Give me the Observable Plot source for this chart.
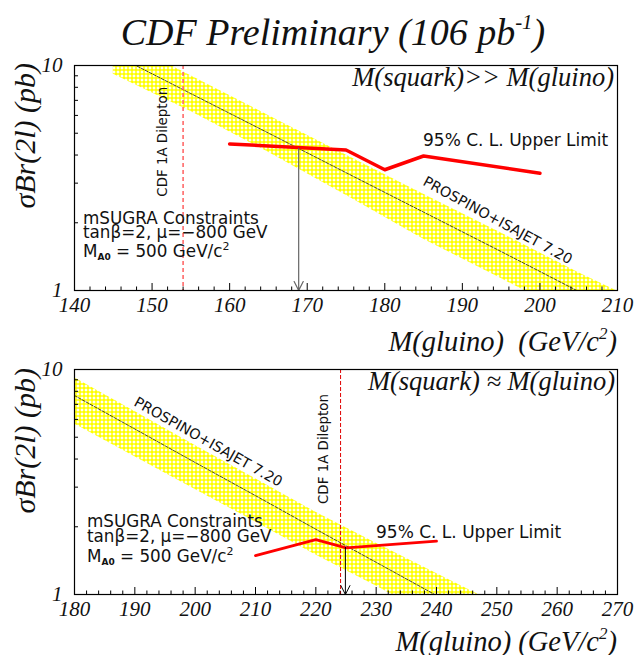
<!DOCTYPE html>
<html>
<head>
<meta charset="utf-8">
<script src="https://cdn.jsdelivr.net/npm/d3@7"></script>
<script src="https://cdn.jsdelivr.net/npm/@observablehq/plot@0.6"></script>
<style>
  body { margin: 0; background: #fff; width: 637px; }
  #title { position: relative; height: 50px; width: 637px; }
  #title span { position: absolute; left: 333px; top: 13px; transform: translateX(-50%);
    white-space: nowrap; font-family: "Liberation Serif", serif; font-style: italic;
    font-size: 38px; line-height: 38px; color: #111; }
  #title sup { font-size: 0.55em; line-height: 0; vertical-align: 0.78em; }
  svg { display: block; overflow: visible; }
</style>
</head>
<body>
<div id="title"><span>CDF Preliminary (106 pb<sup>-1</sup>)</span></div>
<div id="p1"></div>
<div id="p2"></div>
<script>
// ---------- data: top panel  M(squark) >> M(gluino) ----------
const topTicks = [140, 150, 160, 170, 180, 190, 200, 210];
const topBandMass = [145, 155, 165, 175, 185, 195, 205, 212];
const topBandCentral = [11.25, 7.50, 5.01, 3.34, 2.23, 1.49, 0.99, 0.75];
const topBandUpper = [13.5, 9.0, 6.0, 4.0, 2.68, 1.80, 1.20, 0.92];
const topBandLower = [9.15, 6.24, 4.12, 2.65, 1.69, 1.13, 0.75, 0.57];
const topLimitMass = [160, 175, 180, 185, 200];
const topLimit = [4.48, 4.21, 3.44, 3.96, 3.32];
const topRun1A = 154;
const topArrowMass = 168.9;
const topArrowFrom = 4.28;

// ---------- data: bottom panel  M(squark) ≈ M(gluino) ----------
const botTicks = [180, 190, 200, 210, 220, 230, 240, 250, 260, 270];
const botBandMass = [180, 190, 200, 210, 220, 230, 240, 250];
const botBandCentral = [7.66, 5.44, 3.86, 2.75, 1.95, 1.39, 0.99, 0.70];
const botBandUpper = [9.18, 6.50, 4.59, 3.27, 2.32, 1.69, 1.24, 0.91];
const botBandLower = [5.73, 4.09, 2.93, 2.10, 1.50, 1.09, 0.78, 0.56];
const botLimitMass = [210, 220, 225, 240];
const botLimit = [1.49, 1.755, 1.61, 1.725];
const botRun1A = 224.1;
const botArrowMass = 224.9;
const botArrowFrom = 1.62;

const yLabels = [1, 10];
const yMinor = [2, 3, 4, 5, 6, 7, 8, 9];

const W = 637, ML = 74, MR = 20, FH = 225;
const FW = W - ML - MR;
const SERIF = "Liberation Serif, Times New Roman, serif";
const SANS = "DejaVu Sans, sans-serif";

function panel(o) {
  const band = o.bandMass.map((m, i) => ({m, c: o.central[i], hi: o.upper[i], lo: o.lower[i]}));
  const limit = o.limitMass.map((m, i) => ({m, s: o.limit[i]}));
  const xMinor = d3.range(o.ticks[0], o.ticks[o.ticks.length - 1] + 0.01, 2).filter(v => !o.ticks.includes(v));
  const svg = Plot.plot({
    width: W, height: o.height,
    marginLeft: ML, marginRight: MR, marginTop: o.marginTop, marginBottom: o.height - o.marginTop - FH,
    x: {domain: [o.ticks[0], o.ticks[o.ticks.length - 1]], label: null},
    y: {type: "log", domain: [1, 10], label: null},
    style: {background: "white", overflow: "visible"},
    marks: [
      Plot.areaY(band, {x: "m", y1: "lo", y2: "hi", fill: `url(#${o.pid})`, clip: true}),
      Plot.line(band, {x: "m", y: "c", stroke: "#000", strokeWidth: 0.7, strokeDasharray: "3,1.5", clip: true}),
      Plot.ruleX([o.run1A], {stroke: o.dashColor, strokeWidth: o.dashWidth, strokeDasharray: o.dashArray}),
      Plot.line(limit, {x: "m", y: "s", stroke: "#ff0000", strokeWidth: o.redWidth}),
      Plot.arrow([{m: o.arrowMass, s: o.arrowFrom}], {x: "m", y1: "s", y2: 1, stroke: o.arrowColor,
        strokeWidth: o.arrowWidth, headLength: 10 * 1.5 / o.arrowWidth, headAngle: 54}),
      Plot.tickX(xMinor, {x: d => d, insetTop: FH - 3.5, stroke: "#000"}),
      Plot.tickX(o.ticks, {x: d => d, insetTop: FH - 7, stroke: "#000"}),
      Plot.tickY(yMinor, {y: d => d, insetRight: FW - 4, stroke: "#000"}),
      Plot.axisX(o.ticks, {tickSize: 0, tickPadding: 7, fontSize: 21, fontFamily: SERIF, fontStyle: "italic",
        fill: "#111", tickFormat: d => String(d)}),
      Plot.axisY(yLabels, {tickSize: 0, tickPadding: 12, fontSize: 21, fontFamily: SERIF, fontStyle: "italic",
        fill: "#111", tickFormat: d => String(d)}),
      Plot.frame({stroke: "#000", strokeWidth: 1.2})
    ]
  });
  const s = d3.select(svg);
  s.insert("defs", ":first-child").html(
    `<pattern id="${o.pid}" patternUnits="userSpaceOnUse" width="4" height="4">` +
    `<rect width="4" height="4" fill="#ffff00"/>` +
    `<path d="M2,0.25L3.75,2L2,3.75L0.25,2Z" fill="#ffffff"/></pattern>`);
  const sx = svg.scale("x");
  const g = s.append("g").attr("fill", "#111").attr("text-anchor", "start");
  const text = (x, y, parts, attrs) => {
    const t = g.append("text").attr("x", x).attr("y", y).attr("text-anchor", "start");
    for (const k in attrs) t.attr(k, attrs[k]);
    for (const p of parts) {
      const ts = t.append("tspan").text(p.t);
      if (p.dy) ts.attr("dy", p.dy);
      if (p.size) ts.attr("font-size", p.size);
      if (p.weight) ts.attr("font-weight", p.weight);
    }
    return t;
  };
  // panel title
  text(o.titleX, o.titleY, [{t: o.title}], {"text-anchor": "end", "font-family": SERIF, "font-style": "italic", "font-size": 26.5});
  // limit label
  text(o.limX, o.limY, [{t: "95% C. L. Upper Limit"}], {"font-family": SANS, "font-size": 17});
  // theory label
  text(0, 0, [{t: "PROSPINO+ISAJET 7.20"}], {"font-family": SANS, "font-size": 14.3, "text-anchor": "middle",
    transform: `translate(${o.thX},${o.thY}) rotate(${o.thRot})`});
  // run 1A label
  text(0, 0, [{t: "CDF 1A Dilepton"}], {"font-family": SANS, "font-size": 13.4, "text-anchor": "middle",
    transform: `translate(${sx.apply(o.run1A) - o.run1AOff},${o.run1AY}) rotate(-90)`});
  // constraints
  text(o.msX, o.msY[0], [{t: "mSUGRA Constraints"}], {"font-family": SANS, "font-size": 16.8});
  text(o.msX, o.msY[1], [{t: "tanβ=2, μ=−800 GeV"}], {"font-family": SANS, "font-size": 16.8});
  text(o.msX, o.msY[2], [{t: "M"}, {t: "A0", size: 9, weight: "bold", dy: 3}, {t: " = 500 GeV/c", dy: -3},
    {t: "2", size: 11, dy: -7}], {"font-family": SANS, "font-size": 16.8});
  // axis titles
  text(617, o.xlabY, [{t: o.xlabel}, {t: "2", size: 17, dy: -12}, {t: ")", dy: 12}],
    {"text-anchor": "end", "font-family": SERIF, "font-style": "italic", "font-size": 28.5, style: "white-space:pre"});
  text(0, 0, [{t: "σBr(2l) (pb)"}], {"text-anchor": "end", "font-family": SERIF, "font-style": "italic",
    "font-size": 30, transform: `translate(35,${o.ylabTop}) rotate(-90)`});
  return svg;
}

document.getElementById("p1").appendChild(panel({
  pid: "hatchTop", height: 310, marginTop: 15, ticks: topTicks,
  bandMass: topBandMass, central: topBandCentral, upper: topBandUpper, lower: topBandLower,
  limitMass: topLimitMass, limit: topLimit, run1A: topRun1A,
  arrowMass: topArrowMass, arrowFrom: topArrowFrom, arrowColor: "#666", arrowWidth: 1.2,
  dashColor: "#ff6a6a", dashWidth: 1.6, dashArray: "4,3", redWidth: 3.5,
  title: "M(squark)>> M(gluino)", titleX: 614, titleY: 35.7,
  limX: 423, limY: 96, thX: 495.5, thY: 174.6, thRot: 28.6,
  run1AOff: 15.6, run1AY: 91.7, msX: 83, msY: [174, 188.3, 207.3],
  xlabel: "M(gluino)  (GeV/c", xlabY: 301, ylabTop: 13
}));

document.getElementById("p2").appendChild(panel({
  pid: "hatchBot", height: 295, marginTop: 9, ticks: botTicks,
  bandMass: botBandMass, central: botBandCentral, upper: botBandUpper, lower: botBandLower,
  limitMass: botLimitMass, limit: botLimit, run1A: botRun1A,
  arrowMass: botArrowMass, arrowFrom: botArrowFrom, arrowColor: "#000", arrowWidth: 1,
  dashColor: "#e00000", dashWidth: 1, dashArray: "4,2", redWidth: 2.8,
  title: "M(squark) ≈ M(gluino)", titleX: 615, titleY: 30,
  limX: 376, limY: 178, thX: 206, thY: 86, thRot: 29.4,
  run1AOff: 12, run1AY: 89, msX: 87, msY: [166.7, 181.7, 201.7],
  xlabel: "M(gluino) (GeV/c", xlabY: 291, ylabTop: 8
}));
</script>
</body>
</html>
